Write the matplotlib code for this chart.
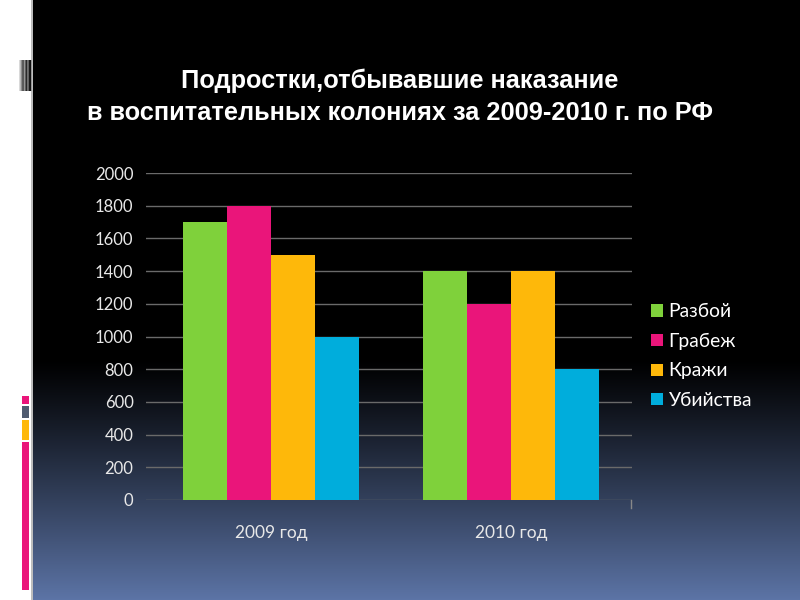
import matplotlib.pyplot as plt
import numpy as np

years = ["2009 год", "2010 год"]
crimes = ["Разбой", "Грабеж", "Кражи", "Убийства"]
razboy = [1700, 1400]
grabezh = [1800, 1200]
krazhi = [1500, 1400]
ubiystva = [1000, 800]
colors = ["#7fd13b", "#ea157a", "#feb80a", "#00addc"]
yticks = list(range(0, 2001, 200))

fig = plt.figure(figsize=(8, 6), dpi=100, facecolor="white")

# slide background: black fading to grey-blue at the bottom
bg = fig.add_axes([33 / 800, 0, 1 - 33 / 800, 1])
bg.set_axis_off()
rows = np.linspace(0, 1, 600)
t = np.clip((rows - 0.6) / 0.4, 0, 1) ** 1.1
top = np.array([0, 0, 0])
bot = np.array([0x5c, 0x74, 0xa6]) / 255
grad = top[None, :] * (1 - t[:, None]) + bot[None, :] * t[:, None]
img = np.repeat(grad[:, None, :], 2, axis=1)
bg.imshow(img, aspect="auto", extent=[0, 1, 0, 1], origin="upper")
bg.set_xlim(0, 1)
bg.set_ylim(0, 1)

# little decorations on the left edge
fig.add_artist(plt.Line2D([32 / 800, 32 / 800], [0, 1], color="#b0b0b0", lw=1.2))
deco = fig.add_axes([19 / 800, 1 - 91 / 600, 13 / 800, 31 / 600])
deco.set_axis_off()
deco.imshow(np.array([[0.85, 0.55, 0.3, 0.6, 0.15, 0.5, 0.1, 0.05]]), cmap="gray",
            aspect="auto", vmin=0, vmax=1)
strip = [(396, 404, "#ea157a"), (406, 418, "#4f5b70"), (420, 440, "#feb80a"), (442, 590, "#ea157a")]
for y0, y1, c in strip:
    fig.add_artist(plt.Rectangle((22 / 800, 1 - y1 / 600), 7 / 800, (y1 - y0) / 600,
                                 transform=fig.transFigure, color=c, ec="none"))

fig.text(400 / 800, 1 - 97 / 600,
         "Подростки,отбывавшие наказание\nв воспитательных колониях за 2009-2010 г. по РФ",
         ha="center", va="center", color="white", fontsize=18.3, fontweight="bold",
         family="Liberation Sans", linespacing=1.4)

ax = fig.add_axes([146 / 800, 1 - 500 / 600, (632 - 146) / 800, (500 - 173) / 600])
ax.patch.set_alpha(0)
x = np.arange(len(years))
w = 0.183
series = [razboy, grabezh, krazhi, ubiystva]
for i, (vals, name, c) in enumerate(zip(series, crimes, colors)):
    ax.bar(x + (i - 1.5) * w, vals, width=w, color=c, label=name, zorder=3)

ax.set_xlim(-0.521, 1.504)
ax.set_ylim(0, 2000)
ax.set_yticks(yticks)
ax.set_yticklabels([str(v) for v in yticks], family="Lato", fontsize=12, color="#e8e8e8")
ax.set_xticks(x)
ax.set_xticklabels(years, family="Lato", fontsize=12.5, color="#e8e8e8")
ax.tick_params(axis="y", length=0, pad=9)
ax.tick_params(axis="x", length=0, pad=18)
ax.grid(axis="y", color="#6a6a6a", lw=1, zorder=0)
for s in ax.spines.values():
    s.set_visible(False)
# category boundary tick at the right end
ax.plot([1.5, 1.5], [0, -50], color="#888888", lw=1, clip_on=False)

leg = ax.legend(loc="center left", bbox_to_anchor=(1.004, 0.44), frameon=False,
                prop={"family": "Lato", "size": 13.9}, labelcolor="white",
                handlelength=0.6, handleheight=0.6, handletextpad=0.3, labelspacing=0.65)

fig.savefig("out.png", dpi=100, facecolor=fig.get_facecolor())
